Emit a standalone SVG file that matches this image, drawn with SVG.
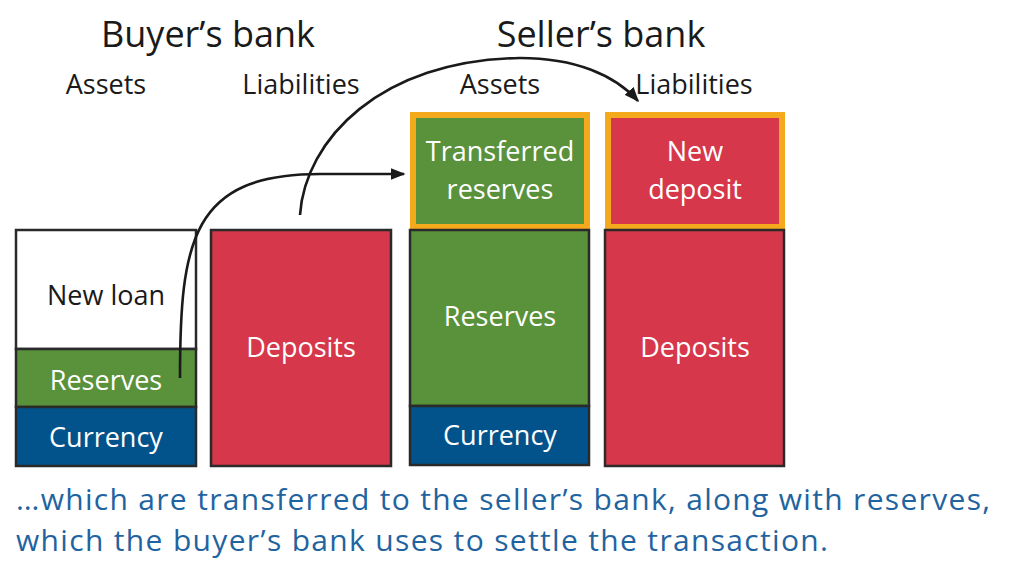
<svg xmlns="http://www.w3.org/2000/svg" width="1010" height="580" viewBox="0 0 1010 580">
<defs>
<marker id="ah" viewBox="0 0 10 10" refX="9" refY="5" markerWidth="15" markerHeight="12" markerUnits="userSpaceOnUse" orient="auto" preserveAspectRatio="none">
<path d="M0,0 L10,5 L0,10 z" fill="#1a1a1a"/>
</marker>
<style>
text{font-family:"Open Sans","Noto Sans",sans-serif;text-anchor:middle}
.title{font-size:36px;fill:#1a1a1a}
.head{font-size:27px;fill:#1a1a1a}
.lbl{font-size:27px;fill:#ffffff}
.dark{fill:#1a1a1a}
.box{stroke:#2a2a2a;stroke-width:2.5}
.hl{stroke:#f5a91d;stroke-width:6;fill:none}
.green{fill:#5a913b}
.red{fill:#d6374a}
.blue{fill:#02538b}
.white{fill:#ffffff}
.conn{fill:none;stroke:#1a1a1a;stroke-width:2.6}
.cap{font-size:30px;fill:#1f64a0;text-anchor:start}
</style>
</defs>
<rect width="1010" height="580" fill="#ffffff"/>
<g id="headings">
<text class="title" x="208" y="47">Buyer’s bank</text>
<text class="title" x="601" y="47">Seller’s bank</text>
<text class="head" x="106" y="94">Assets</text>
<text class="head" x="301" y="94">Liabilities</text>
<text class="head" x="500" y="94">Assets</text>
<text class="head" x="694" y="94">Liabilities</text>
</g>
<g id="buyer-new-loan"><rect class="box white" x="16" y="230" width="180" height="119"/><text class="lbl dark" x="106" y="305">New loan</text></g>
<g id="buyer-reserves"><rect class="box green" x="16" y="349" width="180" height="58"/><text class="lbl" x="106" y="390">Reserves</text></g>
<g id="buyer-currency"><rect class="box blue" x="16" y="407" width="180" height="59"/><text class="lbl" x="106" y="447">Currency</text></g>
<g id="buyer-deposits"><rect class="box red" x="211" y="230" width="180" height="236"/><text class="lbl" x="301" y="357">Deposits</text></g>
<g id="seller-transferred-reserves"><rect class="green" x="410" y="112" width="180" height="116"/><rect class="hl" x="413" y="115" width="174" height="112"/><text class="lbl" x="500" y="161">Transferred</text><text class="lbl" x="500" y="199">reserves</text></g>
<g id="seller-reserves"><rect class="box green" x="410" y="230" width="179" height="176"/><text class="lbl" x="500" y="326">Reserves</text></g>
<g id="seller-currency"><rect class="box blue" x="410" y="406" width="179" height="59"/><text class="lbl" x="500" y="445">Currency</text></g>
<g id="seller-new-deposit"><rect class="red" x="605" y="112" width="180" height="116"/><rect class="hl" x="608" y="115" width="174" height="112"/><text class="lbl" x="695" y="161">New</text><text class="lbl" x="695" y="199">deposit</text></g>
<g id="seller-deposits"><rect class="box red" x="605" y="230" width="179" height="236"/><text class="lbl" x="695" y="357">Deposits</text></g>
<g id="connectors">
<path class="conn" d="M180,378 C180,240 192,174 320,174 L404,174" marker-end="url(#ah)"/>
<path class="conn" d="M300,215 C305,140 380,60 520,58 C575,58 615,75 638,101" marker-end="url(#ah)"/>
</g>
<g id="caption">
<text class="cap" x="16" y="510" textLength="974">…which are transferred to the seller’s bank, along with reserves,</text>
<text class="cap" x="16" y="551" textLength="812">which the buyer’s bank uses to settle the transaction.</text>
</g>
</svg>
